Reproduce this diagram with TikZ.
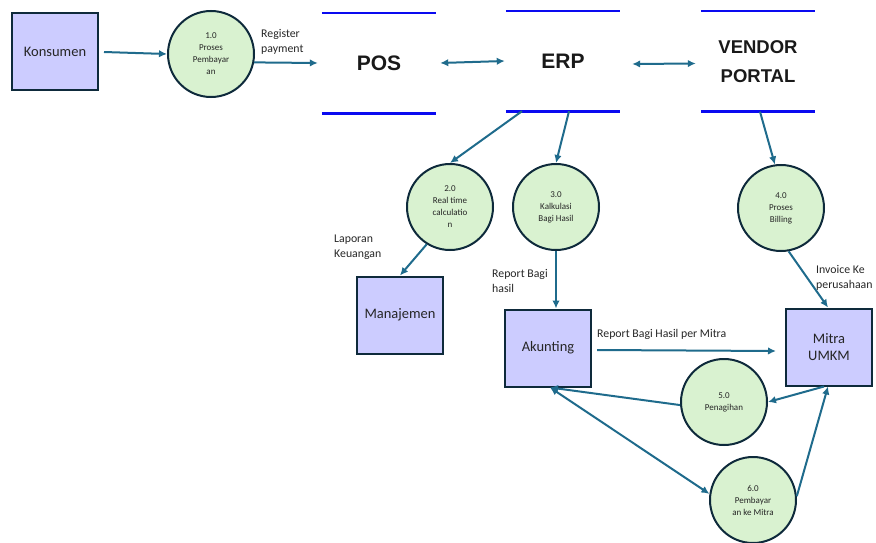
\documentclass[tikz,border=0pt]{standalone}
\usepackage{fontspec}
\setmainfont{Carlito}
\newfontfamily\storefont{Liberation Sans}
\usetikzlibrary{arrows.meta, positioning}
\definecolor{boxfill}{HTML}{CCCCFF}
\definecolor{circfill}{HTML}{D9F2D0}
\definecolor{edge}{HTML}{0E2A3B}
\definecolor{flow}{HTML}{1F6B8C}
\definecolor{storeblue}{HTML}{0A0AF0}

\begin{document}
\begin{tikzpicture}[x=1pt, y=-1pt,
    entity/.style={draw=edge, fill=boxfill, line width=2pt, minimum width=86pt, minimum height=77pt,
        align=center, text=black!85, font=\fontsize{14.5}{16.5}\selectfont},
    proc/.style={circle, draw=edge, fill=circfill, line width=2pt, minimum size=86pt, inner sep=0pt,
        align=center, text=black!85, font=\fontsize{9}{12}\selectfont},
    store/.style={minimum width=114pt, minimum height=100pt, align=center, text=black!90,
        font=\storefont\bfseries\fontsize{21}{29}\selectfont},
    storetop/.style={draw=storeblue, line width=2pt},
    storebot/.style={draw=storeblue, line width=3pt},
    flowtext/.style={inner sep=1pt, align=left, text=black!85, font=\fontsize{11.8}{14.5}\selectfont},
    flowline/.style={draw=flow, line width=2pt, -{Latex[length=8pt,width=7.5pt]}},
    flowbi/.style={draw=flow, line width=2pt, {Latex[length=8pt,width=7.5pt]}-{Latex[length=8pt,width=7.5pt]}}
    ]
    \useasboundingbox (0,0) rectangle (876,543);

    % external entities
    \node[entity] (kons) at (55,52) {Konsumen};
    \node[entity] (man) at (400,315) {Manajemen};
    \node[entity] (akun) at (548,348) {Akunting};
    \node[entity] (mitra) at (829,347) {Mitra\\UMKM};

    % processes
    \node[proc] (p1) at (211,54) {1.0\\Proses\\Pembayar\\an};
    \node[proc] (p2) at (450,207) {2.0\\Real time\\calculatio\\n};
    \node[proc] (p3) at (556,207) {3.0\\Kalkulasi\\Bagi Hasil};
    \node[proc] (p4) at (781,208) {4.0\\Proses\\Billing};
    \node[proc] (p5) at (724,402) {5.0\\Penagihan};
    \node[proc] (p6) at (753,500) {6.0\\Pembayar\\an ke Mitra};

    % data stores
    \node[store] (pos) at (379,63) {POS};
    \node[store] (erp) at (563,61) {ERP};
    \node[store, font=\storefont\bfseries\fontsize{18.5}{29}\selectfont] (vp) at (758,61.5) {VENDOR\\PORTAL};
    \foreach \s in {pos, erp, vp} {
        \draw[storetop] (\s.north west) -- (\s.north east);
        \draw[storebot] (\s.south west) -- (\s.south east);
    }

    % flow labels
    \node[flowtext, anchor=west] (lreg) at (260,42) {Register\\payment};
    \node[flowtext, anchor=west] (llap) at (333,247) {Laporan\\Keuangan};
    \node[flowtext, anchor=west] (lrbh) at (491,281) {Report Bagi\\hasil};
    \node[flowtext, anchor=west] (linv) at (815,278) {Invoice Ke\\perusahaan};
    \node[flowtext, anchor=west] (lrbm) at (596,334) {Report Bagi Hasil per Mitra};

    % flows
    \draw[flowline] ([xshift=5pt]kons.east) -- (p1.west);
    \draw[flowline] (p1.-11) -- ([xshift=-4pt]pos.west);
    \draw[flowbi] ([xshift=4pt]pos.east) -- ([xshift=-1pt]erp.west);
    \draw[flowbi] ([xshift=12pt,yshift=-3pt]erp.east) -- ([xshift=-5pt,yshift=-2pt]vp.west);
    \draw[flowline] ([xshift=-41pt]erp.south) -- (p2.north);
    \draw[flowline] ([xshift=6pt]erp.south) -- (p3.north);
    \draw[flowline] ([xshift=2pt]vp.south) -- (p4.98);
    \draw[flowline] (p2.-122) -- (man.north);
    \draw[flowline] (p3.south) -- (p3.south |- akun.north);
    \draw[flowline] (p4.-80) -- ([xshift=-1pt]mitra.north);
    \draw[flowline] ([xshift=5pt,yshift=-2pt]akun.east) -- ([xshift=-9pt,yshift=-4pt]mitra.west);
    \draw[flowline] ([xshift=-5pt]mitra.south) -- (p5.east);
    \draw[flowline] (p5.184) -- ([xshift=2pt]akun.south);
    \draw[flowbi] ([xshift=2pt]akun.south) -- (p6.172);
    \draw[flowline] (p6.5) -- ([xshift=-1pt]mitra.south);
\end{tikzpicture}
\end{document}
